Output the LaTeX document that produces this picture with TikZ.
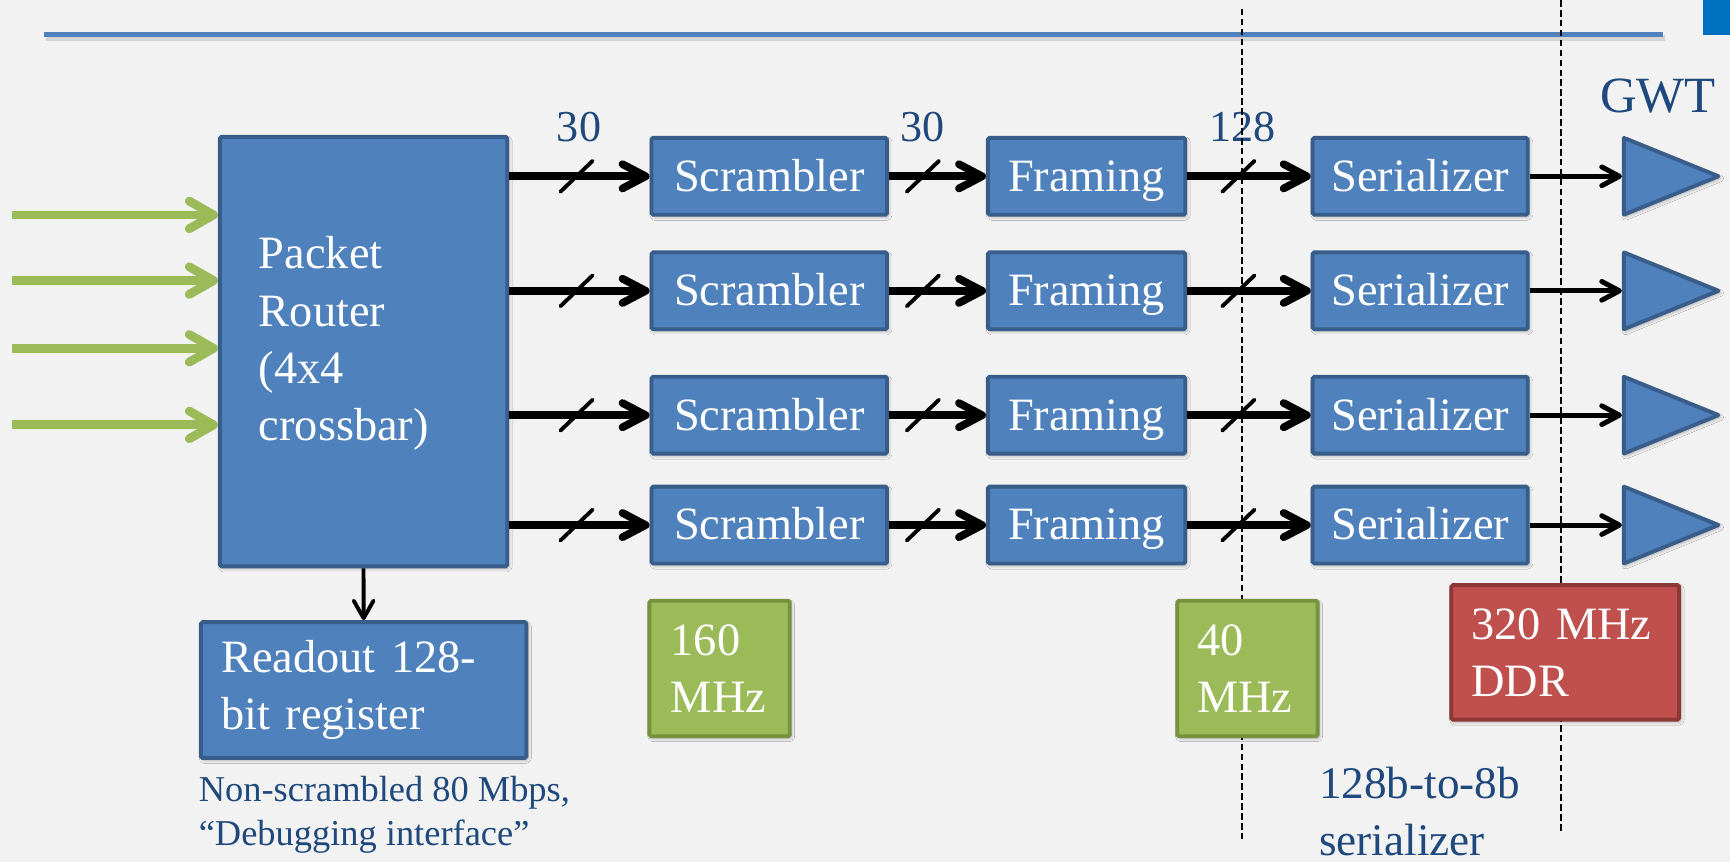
\documentclass[tikz,border=0pt]{standalone}
\usepackage{fontspec}
\setmainfont{Liberation Serif}
\usetikzlibrary{arrows.meta,calc,shadows.blur}
\definecolor{bg}{HTML}{F2F2F2}
\definecolor{boxblue}{HTML}{4F81BD}
\definecolor{boxline}{HTML}{385D8A}
\definecolor{clkgreen}{HTML}{9BBB59}
\definecolor{clkline}{HTML}{76923C}
\definecolor{ddrred}{HTML}{C0504D}
\definecolor{ddrline}{HTML}{8C3836}
\definecolor{txtblue}{HTML}{1F497D}
\definecolor{cornerblue}{HTML}{0070C0}
\tikzset{
  softshadow/.style={blur shadow={shadow xshift=1.5pt, shadow yshift=-2pt,
    shadow blur radius=3pt, shadow blur steps=6, shadow opacity=30}},
  bboxbase/.style={draw=boxline, fill=boxblue, line width=3.5pt, text=white,
    font=\fontsize{42}{52}\selectfont, rounded corners=1.5pt, inner sep=0pt, softshadow},
  bbox/.style={bboxbase, minimum height=69.7pt, text height=29pt, text depth=2pt},
  clkbox/.style={draw=clkline, fill=clkgreen, line width=3.5pt, text=white,
    font=\fontsize{42}{51}\selectfont, rounded corners=1.5pt, inner sep=0pt,
    minimum width=127.2pt, minimum height=122.7pt, align=left, softshadow},
  ddrbox/.style={draw=ddrline, fill=ddrred, line width=3.5pt, text=white,
    font=\fontsize{42}{51.3}\selectfont, rounded corners=1.5pt, inner sep=0pt,
    minimum width=206.6pt, minimum height=121.9pt, align=left, text width=170pt, softshadow},
  wlabel/.style={text=white, inner sep=0pt, align=left},
  blabel/.style={text=txtblue, inner sep=0pt, align=left},
  busarrow/.style={line width=7pt, -{Straight Barb[length=21pt,width=22pt,round]}},
  thinarrow/.style={line width=4.5pt, -{Straight Barb[length=16pt,width=17pt,round]}},
  readarrow/.style={line width=3.5pt, -{Straight Barb[length=16pt,width=18pt,round]}},
  inarrow/.style={draw=clkgreen, line width=8pt, -{Straight Barb[length=22pt,width=25pt,round]}},
  buswidth/.style={line width=3.5pt, line cap=round},
  tri/.style={draw=boxline, fill=boxblue, line width=3.5pt, line join=round, softshadow},
  clkdash/.style={line width=1.6pt, dash pattern=on 6pt off 3pt},
}
\begin{document}
\begin{tikzpicture}[x=1pt,y=-1pt]
\useasboundingbox (0,0) rectangle (1568,781.3);
\fill[bg] (0,0) rectangle (1568,781.3);

% header rule and corner mark
\draw[black, opacity=0.12, line width=5pt] (42,34.3) -- (1508.8,34.3);
\draw[boxblue, line width=4.8pt] (40,31.1) -- (1506.8,31.1);
\fill[cornerblue] (1543.5,0) rectangle (1568,31.7);

% packet router
\node[bboxbase, minimum width=260.4pt, minimum height=389.2pt] (router) at (329.5,318.7) {};
\node[wlabel, anchor=north west, font=\fontsize{42}{52}\selectfont] (routertext) at (234.5,214.3)
  {Packet\\Router\\(4x4\\crossbar)};

% readout register
\node[bboxbase, minimum width=295pt, minimum height=123pt, align=left, text width=258.2pt]
  (readout) at (329.6,625.4) {Readout 128-\\bit register};
\draw[readarrow] (router.south) -- (readout.north);
\node[blabel, anchor=north west, font=\fontsize{33}{40.4}\selectfont] (debug) at (180,703)
  {Non-scrambled 80 Mbps,\\``Debugging interface''};

% green input arrows
\foreach \k/\yy in {1/194.8,2/254.3,3/315.7,4/385.1}{
  \coordinate (g\k) at (10.7,\yy);
  \draw[inarrow] (g\k) -- (g\k -| router.west);
}

% lanes
\foreach \i/\yy in {1/159.8,2/263.6,3/376.3,4/475.9}{
  \node[bbox, minimum width=213.5pt] (s\i) at (697.2,\yy) {Scrambler};
  \node[bbox, minimum width=178.8pt] (f\i) at (984.8,\yy) {Framing};
  \node[bbox, minimum width=195pt] (z\i) at (1287.2,\yy) {Serializer};
  \coordinate (r\i) at (router.east |- s\i.west);
  \coordinate (t\i) at (1470,\yy);
  \draw[tri] (1471.75,\yy-34.8) -- (1557.5,\yy) -- (1471.75,\yy+34.8) -- cycle;
  \draw[busarrow] (r\i) -- (s\i.west);
  \draw[busarrow] (s\i.east) -- (f\i.west);
  \draw[busarrow] (f\i.east) -- (z\i.west);
  \draw[thinarrow] (z\i.east) -- (t\i);
  \coordinate (a\i) at ($(r\i)!0.48!(s\i.west)$);
  \coordinate (b\i) at ($(s\i.east)!0.35!(f\i.west)$);
  \coordinate (c\i) at ($(f\i.east)!0.415!(z\i.west)$);
  \foreach \p in {a\i,b\i,c\i}{
    \draw[buswidth] ($(\p)+(-14.6,14)$) -- ($(\p)+(14.6,-14)$);
  }
}

% bus widths
\node[blabel, anchor=base west, font=\fontsize{40}{48}\selectfont] (w30a) at (504.6,128.4) {30};
\node[blabel, anchor=base west, font=\fontsize{40}{48}\selectfont] (w30b) at (816,128.4) {30};
\node[blabel, anchor=base west, font=\fontsize{40}{48}\selectfont] (w128) at (1095.9,128.4) {128};
\node[blabel, anchor=base west, font=\fontsize{46}{55}\selectfont] (gwt) at (1450,102) {GWT};

% clock-domain boundaries
\draw[clkdash] (1125.4,8) -- (1125.4,760);
\draw[clkdash] (1414.8,0) -- (1414.8,753);

% clock boxes
\node[clkbox, text width=88.4pt] (c160) at (652.2,605.9) {160\\MHz};
\node[clkbox, text width=91.2pt] (c40) at (1130.6,605.9) {40\\MHz};
\node[ddrbox] (c320) at (1418.6,591.3) {320 MHz\\DDR};

\node[blabel, anchor=north west, font=\fontsize{41}{51.3}\selectfont] (sernote) at (1195.3,695.5)
  {128b-to-8b\\serializer};
\end{tikzpicture}
\end{document}
